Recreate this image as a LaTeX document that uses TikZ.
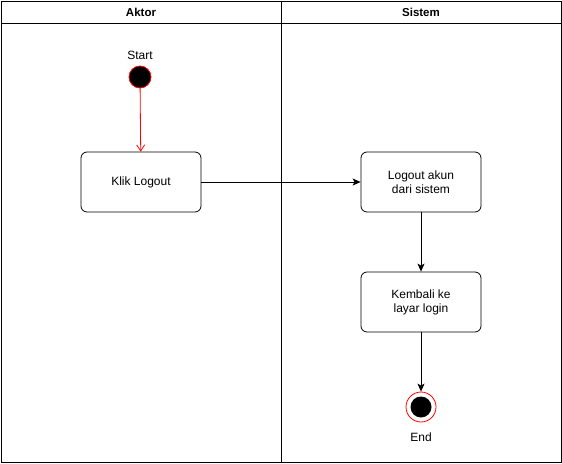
\documentclass[tikz,border=0pt]{standalone}
\usepackage{fontspec}
\setmainfont{Liberation Sans}
\usetikzlibrary{arrows.meta}
\begin{document}
\begin{tikzpicture}[x=1pt,y=-1pt,
  act/.style={draw,rounded corners=6pt,minimum width=120pt,minimum height=60pt,align=center,font=\fontsize{12}{14}\selectfont,line width=0.8pt},
  lbl/.style={font=\fontsize{12}{14}\selectfont},
  hdr/.style={font=\bfseries\fontsize{11.5}{13}\selectfont},
  flow/.style={-{Stealth[length=8pt,width=7pt,inset=2pt]},line width=0.8pt},
  redflow/.style={-{Straight Barb[length=6pt,width=8pt]},line width=0.8pt,red},
  lane/.style={line width=0.9pt}]
\useasboundingbox (0,0) rectangle (562,463);
\fill[white] (0,0) rectangle (562,463);
\draw[lane] (1,1) rectangle (561,462);
\draw[lane] (1,23.5) -- (561,23.5);
\draw[lane] (281,1) -- (281,462);
\node[hdr] (h1) at (141,12) {Aktor};
\node[hdr] (h2) at (421,12) {Sistem};
\node[circle,fill=black,draw=red,minimum size=22pt,inner sep=0pt,line width=0.8pt] (start) at (140,77) {};
\node[lbl] (startl) at (140,55) {Start};
\node[act] (klik) at (141,182) {Klik Logout};
\node[act] (logout) at (421,182) {Logout akun\\ dari sistem};
\node[act] (kembali) at (421,302) {Kembali ke\\ layar login};
\node[circle,draw=red,fill=white,minimum size=30pt,inner sep=0pt,line width=0.8pt] (end) at (421,407) {};
\node[circle,fill=black,minimum size=21pt,inner sep=0pt] (endin) at (421,407) {};
\node[lbl] (endl) at (421,437) {End};
\draw[redflow] (start) -- (klik);
\draw[flow] (klik) -- (logout);
\draw[flow] (logout) -- (kembali);
\draw[flow] (kembali) -- (end);
\end{tikzpicture}
\end{document}
